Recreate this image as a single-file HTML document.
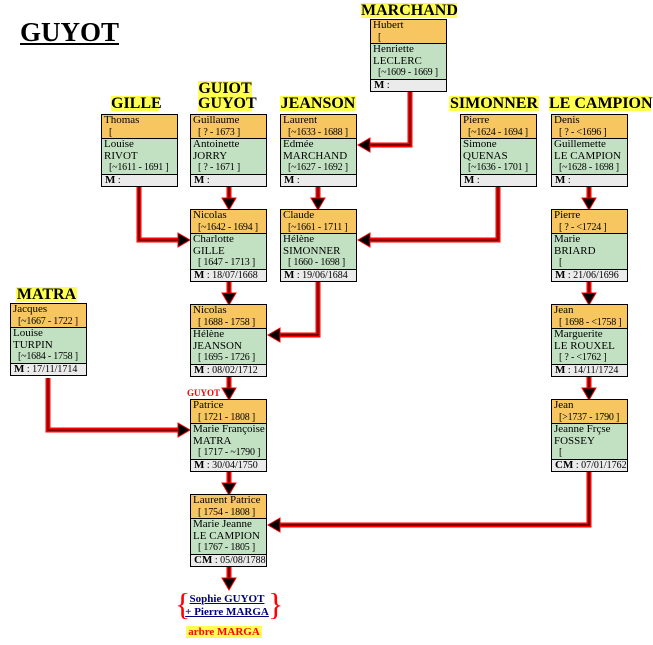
<!DOCTYPE html>
<html><head><meta charset="utf-8"><style>
body{margin:0;width:653px;height:645px;background:#fff;position:relative;overflow:hidden;font-family:"Liberation Serif",serif;}
.b{position:absolute;width:75px;border:1px solid #000;font-size:11px;line-height:11.5px;color:#000;background:#fff}
.o{background:#f8c661;height:23px;border-bottom:1px solid #000;padding-left:2px;overflow:hidden;white-space:nowrap}
.g{background:#c2e1c2;height:35px;border-bottom:1px solid #000;padding-left:2px;overflow:hidden;white-space:nowrap}
.g div{height:11.7px}
.m{background:#ebebeb;height:11px;padding-left:3px;font-size:10px;line-height:11px;white-space:nowrap}
.m b{font-size:11px}
.d{padding-left:5px;white-space:nowrap;font-size:10px;letter-spacing:-0.2px}
.h{position:absolute;background:#ffff50;font-weight:bold;font-size:16px;line-height:15px;color:#000;white-space:nowrap;text-align:center}
svg{position:absolute;left:0;top:0}
</style></head><body>
<svg width="653" height="645">
<g fill="none" stroke="#f00" stroke-width="5">
<polyline points="139,187 139,240 182,240"/>
<polyline points="229,187 229,203"/>
<polyline points="318,187 318,203"/>
<polyline points="410,92 410,145 365,145"/>
<polyline points="498,187 498,240 365,240"/>
<polyline points="589,187 589,203"/>
<polyline points="229,282 229,298"/>
<polyline points="318,282 318,335 275,335"/>
<polyline points="589,282 589,298"/>
<polyline points="229,377 229,393"/>
<polyline points="589,377 589,393"/>
<polyline points="48,378 48,430 182,430"/>
<polyline points="229,472 229,488"/>
<polyline points="589,472 589,525 275,525"/>
<polyline points="229,567 229,583"/>
</g>
<g fill="none" stroke="#000" stroke-width="1">
<polyline points="139,187 139,240 182,240"/>
<polyline points="229,187 229,203"/>
<polyline points="318,187 318,203"/>
<polyline points="410,92 410,145 365,145"/>
<polyline points="498,187 498,240 365,240"/>
<polyline points="589,187 589,203"/>
<polyline points="229,282 229,298"/>
<polyline points="318,282 318,335 275,335"/>
<polyline points="589,282 589,298"/>
<polyline points="229,377 229,393"/>
<polyline points="589,377 589,393"/>
<polyline points="48,378 48,430 182,430"/>
<polyline points="229,472 229,488"/>
<polyline points="589,472 589,525 275,525"/>
<polyline points="229,567 229,583"/>
</g>
<g fill="#000" stroke="#f00" stroke-width="1">
<polygon points="178,233 190,240 178,247"/>
<polygon points="222,198 236,198 229,210"/>
<polygon points="311,198 325,198 318,210"/>
<polygon points="370,138 358,145 370,152"/>
<polygon points="370,233 358,240 370,247"/>
<polygon points="582,198 596,198 589,210"/>
<polygon points="222,293 236,293 229,305"/>
<polygon points="280,328 268,335 280,342"/>
<polygon points="582,293 596,293 589,305"/>
<polygon points="222,388 236,388 229,400"/>
<polygon points="582,388 596,388 589,400"/>
<polygon points="178,423 190,430 178,437"/>
<polygon points="222,483 236,483 229,495"/>
<polygon points="280,518 268,525 280,532"/>
<polygon points="222,578 236,578 229,590"/>
</g>
</svg>

<div style="position:absolute;left:20px;top:19px;font-weight:bold;font-size:27px;line-height:27px;text-decoration:underline;">GUYOT</div>

<div class="h" style="left:361px;top:3px;width:96px">MARCHAND</div>
<div class="h" style="left:111px;top:96px;width:48px">GILLE</div>
<div class="h" style="left:198px;top:81px;width:54px">GUIOT<br>GUYOT</div>
<div class="h" style="left:280px;top:96px;width:76px">JEANSON</div>
<div class="h" style="left:449px;top:96px;width:90px">SIMONNER</div>
<div class="h" style="left:549px;top:96px;width:102px">LE CAMPION</div>
<div class="h" style="left:16px;top:287px;width:61px">MATRA</div>

<div class="b" style="left:370px;top:19px"><div class="o">Hubert<div class="d">[</div></div><div class="g"><div>Henriette</div><div>LECLERC</div><div class="d">[~1609 - 1669 ]</div></div><div class="m"><b>M</b> :</div></div>

<div class="b" style="left:101px;top:114px"><div class="o">Thomas<div class="d">[</div></div><div class="g"><div>Louise</div><div>RIVOT</div><div class="d">[~1611 - 1691 ]</div></div><div class="m"><b>M</b> :</div></div>
<div class="b" style="left:190px;top:114px"><div class="o">Guillaume<div class="d">[ ? - 1673 ]</div></div><div class="g"><div>Antoinette</div><div>JORRY</div><div class="d">[ ? - 1671 ]</div></div><div class="m"><b>M</b> :</div></div>
<div class="b" style="left:280px;top:114px"><div class="o">Laurent<div class="d">[~1633 - 1688 ]</div></div><div class="g"><div>Edmée</div><div>MARCHAND</div><div class="d">[~1627 - 1692 ]</div></div><div class="m"><b>M</b> :</div></div>
<div class="b" style="left:460px;top:114px"><div class="o">Pierre<div class="d">[~1624 - 1694 ]</div></div><div class="g"><div>Simone</div><div>QUENAS</div><div class="d">[~1636 - 1701 ]</div></div><div class="m"><b>M</b> :</div></div>
<div class="b" style="left:551px;top:114px"><div class="o">Denis<div class="d">[ ? - &lt;1696 ]</div></div><div class="g"><div>Guillemette</div><div>LE CAMPION</div><div class="d">[~1628 - 1698 ]</div></div><div class="m"><b>M</b> :</div></div>

<div class="b" style="left:190px;top:209px"><div class="o">Nicolas<div class="d">[~1642 - 1694 ]</div></div><div class="g"><div>Charlotte</div><div>GILLE</div><div class="d">[ 1647 - 1713 ]</div></div><div class="m"><b>M</b> : 18/07/1668</div></div>
<div class="b" style="left:280px;top:209px"><div class="o">Claude<div class="d">[~1661 - 1711 ]</div></div><div class="g"><div>Hélène</div><div>SIMONNER</div><div class="d">[ 1660 - 1698 ]</div></div><div class="m"><b>M</b> : 19/06/1684</div></div>
<div class="b" style="left:551px;top:209px"><div class="o">Pierre<div class="d">[ ? - &lt;1724 ]</div></div><div class="g"><div>Marie</div><div>BRIARD</div><div class="d">[</div></div><div class="m"><b>M</b> : 21/06/1696</div></div>

<div class="b" style="left:10px;top:303px"><div class="o">Jacques<div class="d">[~1667 - 1722 ]</div></div><div class="g"><div>Louise</div><div>TURPIN</div><div class="d">[~1684 - 1758 ]</div></div><div class="m"><b>M</b> : 17/11/1714</div></div>
<div class="b" style="left:190px;top:304px"><div class="o">Nicolas<div class="d">[ 1688 - 1758 ]</div></div><div class="g"><div>Hélène</div><div>JEANSON</div><div class="d">[ 1695 - 1726 ]</div></div><div class="m"><b>M</b> : 08/02/1712</div></div>
<div class="b" style="left:551px;top:304px"><div class="o">Jean<div class="d">[ 1698 - &lt;1758 ]</div></div><div class="g"><div>Marguerite</div><div>LE ROUXEL</div><div class="d">[ ? - &lt;1762 ]</div></div><div class="m"><b>M</b> : 14/11/1724</div></div>

<div style="position:absolute;left:187px;top:388px;color:#f00;font-weight:bold;font-size:9px">GUYOT</div>
<div class="b" style="left:190px;top:399px"><div class="o">Patrice<div class="d">[ 1721 - 1808 ]</div></div><div class="g"><div>Marie Françoise</div><div>MATRA</div><div class="d">[ 1717 - ~1790 ]</div></div><div class="m"><b>M</b> : 30/04/1750</div></div>
<div class="b" style="left:551px;top:399px"><div class="o">Jean<div class="d">[&gt;1737 - 1790 ]</div></div><div class="g"><div>Jeanne Frçse</div><div>FOSSEY</div><div class="d">[</div></div><div class="m"><b>CM</b> : 07/01/1762</div></div>

<div class="b" style="left:190px;top:494px"><div class="o">Laurent Patrice<div class="d">[ 1754 - 1808 ]</div></div><div class="g"><div>Marie Jeanne</div><div>LE CAMPION</div><div class="d">[ 1767 - 1805 ]</div></div><div class="m"><b>CM</b> : 05/08/1788</div></div>

<div style="position:absolute;left:175px;top:586px;color:#f00;font-size:32px;line-height:36px">{</div>
<div style="position:absolute;left:268px;top:586px;color:#f00;font-size:32px;line-height:36px">}</div>
<div style="position:absolute;left:184px;top:593px;width:86px;text-align:center;color:#000080;font-weight:bold;font-size:11px;line-height:13px;text-decoration:underline">Sophie GUYOT<br>+ Pierre MARGA</div>
<div style="position:absolute;left:186px;top:626px;width:76px;background:#ffff50;color:#f00;font-weight:bold;font-size:11px;line-height:12px;text-align:center">arbre MARGA</div>
</body></html>
